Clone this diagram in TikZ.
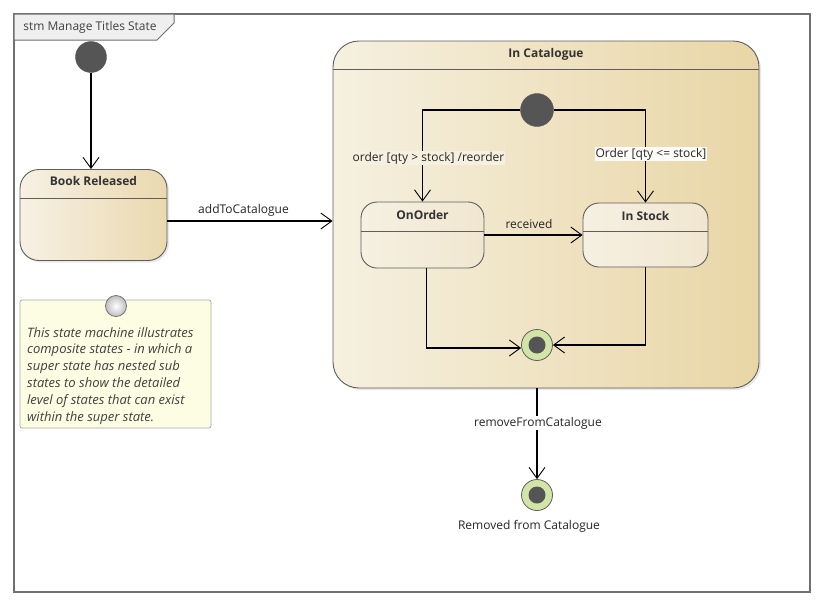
\documentclass[tikz,border=0pt]{standalone}
\usepackage{fontspec}
\setmainfont{Open Sans}
\usetikzlibrary{arrows.meta,calc,shadows}
\definecolor{frameline}{HTML}{707070}
\definecolor{tabfill}{HTML}{EFEFEF}
\definecolor{stateborder}{HTML}{5E5E5E}
\definecolor{stateL}{HTML}{F7F1E4}
\definecolor{stateR}{HTML}{EAD9AF}
\definecolor{compL}{HTML}{F6F0E0}
\definecolor{compR}{HTML}{E9D6A6}
\definecolor{subL}{HTML}{F6F0E2}
\definecolor{subR}{HTML}{F1E7D0}
\definecolor{pseudo}{HTML}{555555}
\definecolor{finalgreen}{HTML}{D3E5A6}
\definecolor{notefill}{HTML}{FDFDE3}
\definecolor{noteborder}{HTML}{ABABA3}
\begin{document}
\begin{tikzpicture}[x=1pt,y=-1pt,
  lbl/.style={font=\fontsize{12}{14}\selectfont, inner sep=1pt, text=black!85},
  ttl/.style={font=\fontsize{12}{14}\selectfont\bfseries, text=black!80},
  statebox/.style={draw=stateborder, line width=0.9pt, left color=stateL, right color=stateR,
     drop shadow={opacity=0.18, shadow xshift=2pt, shadow yshift=-2pt}},
  initst/.style={circle, fill=pseudo, draw=pseudo, inner sep=0pt},
  finalst/.style={circle, fill=finalgreen, draw=stateborder, line width=0.8pt, minimum size=31pt, inner sep=0pt},
  finaldot/.style={circle, fill=pseudo, inner sep=0pt, minimum size=17pt},
  arr/.style={draw=black, line width=1.1pt, -{Straight Barb[length=11pt,width=16pt,line width=0.9pt]}},
  conn/.style={draw=black, line width=1.1pt}
]
\useasboundingbox (0,0) rectangle (826,608);
\fill[white] (0,0) rectangle (826,608);
% frame
\draw[frameline, line width=1.8pt] (14,14) rectangle (810,592);
\draw[frameline, line width=1pt, fill=tabfill] (14,14) -- (174,14) -- (174,23) -- (157,40) -- (14,40) -- cycle;
\node[lbl, text=black!75, anchor=center] (tab) at (90,27) {stm Manage Titles State};

% outer initial
\node[initst, minimum size=31pt] (init) at (91,57) {};

% Book Released
\node[statebox, rounded corners=19pt, minimum width=147pt, minimum height=91pt] (br) at (93.5,215) {};
\draw[stateborder, line width=0.9pt] ([yshift=-29pt]br.north west) -- ([yshift=-29pt]br.north east);
\node[ttl] (brt) at (93.5,181) {Book Released};

% In Catalogue
\node[draw=stateborder, line width=0.9pt, left color=compL, right color=compR, rounded corners=26pt,
      minimum width=426pt, minimum height=347pt,
      drop shadow={opacity=0.18, shadow xshift=2pt, shadow yshift=-2pt}] (ic) at (546,214.5) {};
\draw[stateborder, line width=0.9pt] ([yshift=-29pt]ic.north west) -- ([yshift=-29pt]ic.north east);
\node[ttl] (ict) at (546,54) {In Catalogue};

% inner initial
\node[initst, minimum size=33pt] (ii) at (537,110) {};

% OnOrder
\node[draw=stateborder, line width=0.9pt, left color=subL, right color=subR, rounded corners=16pt,
      minimum width=123pt, minimum height=66pt] (oo) at (422.5,235) {};
\draw[stateborder, line width=0.9pt] ([yshift=-30pt]oo.north west) -- ([yshift=-30pt]oo.north east);
\node[ttl] (oot) at (422.5,215) {OnOrder};

% In Stock
\node[draw=stateborder, line width=0.9pt, left color=subL, right color=subR, rounded corners=16pt,
      minimum width=125pt, minimum height=64pt] (is) at (645.5,235) {};
\draw[stateborder, line width=0.9pt] ([yshift=-29pt]is.north west) -- ([yshift=-29pt]is.north east);
\node[ttl] (ist) at (645.5,216) {In Stock};

% finals
\node[finalst] (f1) at (537,345) {};
\node[finaldot] (f1d) at (f1) {};
\node[finalst] (f2) at (537,495) {};
\node[finaldot] (f2d) at (f2) {};

% note
\node[draw=noteborder, line width=0.8pt, fill=notefill, rounded corners=2pt,
      minimum width=191pt, minimum height=128pt] (nt) at (115.5,364) {};
\node[circle, draw=black!55, line width=0.8pt, inner color=white, outer color=black!25, minimum size=21pt, inner sep=0pt] (ntc) at (116,306) {};
\node[anchor=north west, align=left, inner sep=0pt, text=black!75,
      font=\fontsize{13}{16.8}\selectfont\itshape] (ntt) at (27,327)
  {This state machine illustrates\\composite states - in which a\\super state has nested sub\\states to show the detailed\\level of states that can exist\\within the super state.};

% connectors
\coordinate (y221) at (0,221);
\coordinate (y235) at (0,235);
\draw[arr] (init) -- (init |- br.north);
\draw[arr] (br.east |- y221) -- (ic.west |- y221);
\node[lbl] (l1) at (243.5,210) {addToCatalogue};

\draw[arr] (ii.west) -| (oo.north);
\draw[arr] (ii.east) -| (is.north);
\node[lbl, fill=compL] (l2) at (428.5,158) {order [qty > stock] /reorder};
\node[lbl, fill=white!80!compL] (l3) at (651,154) {Order [qty <= stock]};

\draw[arr] (oo.east |- y235) -- (is.west |- y235);
\node[lbl] (l4) at (529,224) {received};

\draw[arr] ([xshift=4pt]oo.south) |- ([yshift=-3pt]f1.west);
\draw[arr] (is.south) |- (f1.east);

\draw[arr] (f1 |- ic.south) -- (f2);
\node[lbl, fill=white] (l5) at (538,423) {removeFromCatalogue};
\node[lbl] (l6) at (529,526) {Removed from Catalogue};
\end{tikzpicture}
\end{document}
